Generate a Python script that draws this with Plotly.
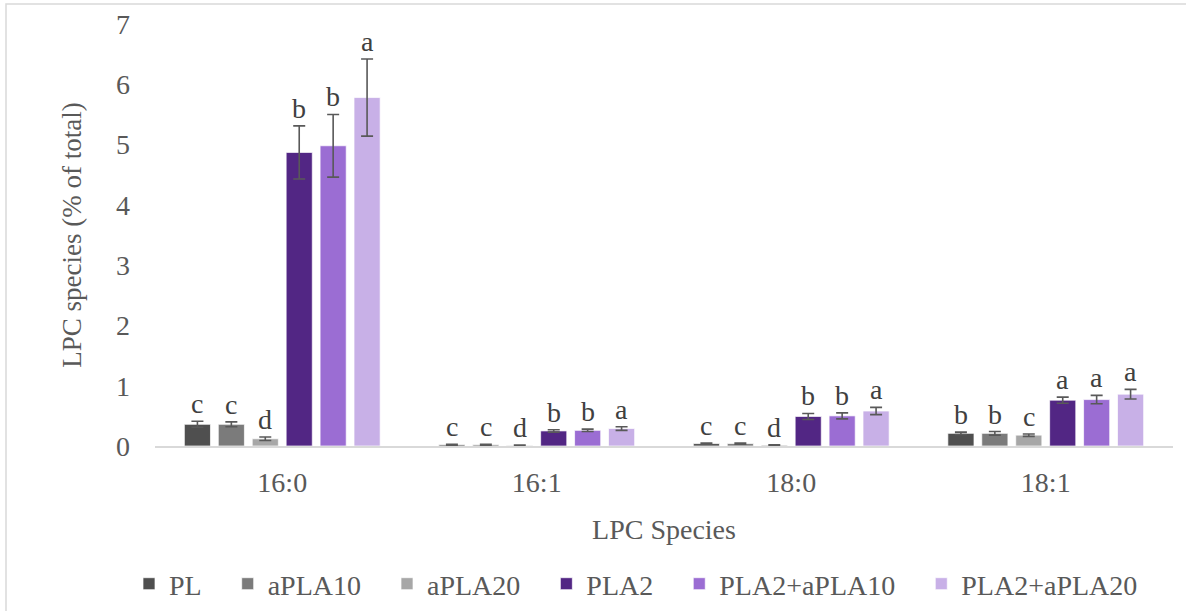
import plotly.graph_objects as go

categories = ["16:0", "16:1", "18:0", "18:1"]
series_names = ["PL", "aPLA10", "aPLA20", "PLA2", "PLA2+aPLA10", "PLA2+aPLA20"]

PL = [0.36, 0.02, 0.04, 0.21]
aPLA10 = [0.36, 0.02, 0.04, 0.21]
aPLA20 = [0.12, 0.01, 0.015, 0.18]
PLA2 = [4.87, 0.25, 0.49, 0.76]
PLA2_aPLA10 = [4.98, 0.26, 0.50, 0.77]
PLA2_aPLA20 = [5.78, 0.29, 0.58, 0.86]

PL_err = [0.05, 0.01, 0.01, 0.02]
aPLA10_err = [0.04, 0.01, 0.01, 0.03]
aPLA20_err = [0.03, 0.005, 0.005, 0.02]
PLA2_err = [0.44, 0.02, 0.05, 0.05]
PLA2_aPLA10_err = [0.52, 0.02, 0.05, 0.07]
PLA2_aPLA20_err = [0.64, 0.03, 0.06, 0.08]

PL_letters = ["c", "c", "c", "b"]
aPLA10_letters = ["c", "c", "c", "b"]
aPLA20_letters = ["d", "d", "d", "c"]
PLA2_letters = ["b", "b", "b", "a"]
PLA2_aPLA10_letters = ["b", "b", "b", "a"]
PLA2_aPLA20_letters = ["a", "a", "a", "a"]

values = [PL, aPLA10, aPLA20, PLA2, PLA2_aPLA10, PLA2_aPLA20]
errors = [PL_err, aPLA10_err, aPLA20_err, PLA2_err, PLA2_aPLA10_err, PLA2_aPLA20_err]
letters = [PL_letters, aPLA10_letters, aPLA20_letters, PLA2_letters,
           PLA2_aPLA10_letters, PLA2_aPLA20_letters]
colors = ["#4f4f4f", "#7b7b7b", "#a7a7a7", "#522684", "#9b6dd3", "#c8b0e7"]

W, H = 1186, 611
ML, MR, MT, MB = 155, 13, 24, 165
BARGAP, GROUPGAP = 0.2, 0.23
FONT = "Liberation Serif"
TXT = "#595959"
FS = 28
PAD = "\u00a0\u00a0\u00a0"

fig = go.Figure()
n = len(series_names)
for k, (name, v, e, c) in enumerate(zip(series_names, values, errors, colors)):
    fig.add_trace(go.Bar(
        name=name + (PAD if k < n - 1 else ""), x=categories, y=v, marker_color=c,
        marker_line=dict(color="white", width=0.7),
        error_y=dict(type="data", array=e, visible=True, color="#595959",
                     thickness=1.6, width=6),
    ))

plot_w = W - ML - MR
slot = plot_w / len(categories) * (1 - BARGAP) / n
annotations = []
for i, (v, e, lt) in enumerate(zip(values, errors, letters)):
    shift = (i - (n - 1) / 2) * slot
    for cat, val, err, l in zip(categories, v, e, lt):
        annotations.append(dict(
            x=cat, y=val + err, xref="x", yref="y", text=l, showarrow=False,
            xshift=shift, yanchor="bottom", yshift=0,
            font=dict(family=FONT, size=FS, color="#404040")))

plot_h = H - MT - MB
def px_to_paper_x(px):
    return (px - ML) / plot_w
def px_to_paper_y(py):
    return (H - MB - py) / plot_h

fig.update_layout(
    width=W, height=H,
    margin=dict(l=ML, r=MR, t=MT, b=MB, autoexpand=False),
    paper_bgcolor="white", plot_bgcolor="white",
    barmode="group", bargap=BARGAP, bargroupgap=GROUPGAP,
    font=dict(family=FONT, size=FS, color=TXT),
    xaxis=dict(
        automargin=False,
        showgrid=False, showline=True, linecolor="#d9d9d9", linewidth=1.5,
        ticks="", tickfont=dict(family=FONT, size=FS, color=TXT), ticklabelstandoff=11,
        title=dict(text="LPC Species", font=dict(family=FONT, size=FS, color=TXT), standoff=22),
    ),
    yaxis=dict(
        automargin=False,
        range=[0, 7], dtick=1, showgrid=False, zeroline=False, showline=False,
        ticks="", tickfont=dict(family=FONT, size=FS, color=TXT), ticklabelstandoff=24,
        title=dict(text="LPC species (% of total)", font=dict(family=FONT, size=27, color=TXT), standoff=26),
    ),
    legend=dict(
        orientation="h", x=px_to_paper_x(636), xanchor="center",
        y=px_to_paper_y(584), yanchor="middle",
        font=dict(family=FONT, size=FS, color=TXT), traceorder="normal",
        itemwidth=30,
    ),
    annotations=annotations,
    shapes=[dict(type="rect", xref="paper", yref="paper",
                 x0=px_to_paper_x(6), x1=px_to_paper_x(1195),
                 y0=px_to_paper_y(4), y1=px_to_paper_y(625),
                 line=dict(color="#d9d9d9", width=1.5), layer="below")],
)

fig.write_html("out.html")
